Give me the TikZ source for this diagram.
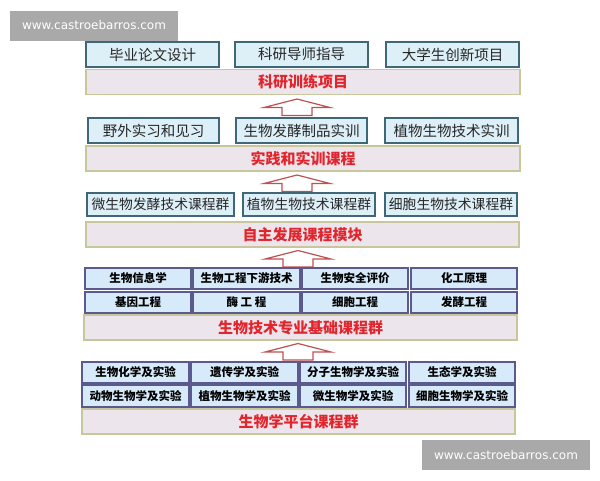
\documentclass[tikz,border=0pt]{standalone}
\usepackage{fontspec}
\setmainfont{Noto Sans CJK SC}
\newfontfamily\wmfont{DejaVu Sans}
\definecolor{topfill}{HTML}{DDEFF7}
\definecolor{topdraw}{HTML}{3F6778}
\definecolor{cfill}{HTML}{D6EAFA}
\definecolor{cdraw}{HTML}{5A5A8E}
\definecolor{bandfill}{HTML}{ECE5EC}
\definecolor{banddraw}{HTML}{C8C79B}
\definecolor{bandtext}{HTML}{E2252D}
\definecolor{arrdraw}{HTML}{BF5250}
\definecolor{wmgray}{HTML}{A9A9A9}
\tikzset{
  topbox/.style={draw=topdraw, fill=topfill, line width=1.2pt, inner sep=0pt,
    minimum height=25pt, text=black!85, font=\fontsize{14.5pt}{16pt}\selectfont},
  midbox/.style={topbox, minimum height=23pt, font=\fontsize{13.8pt}{15pt}\selectfont},
  cbox/.style={draw=cdraw, fill=cfill, line width=1.3pt, inner sep=0pt,
    minimum width=106pt, minimum height=21pt, text=black,
    font=\fontsize{11.5pt}{13pt}\selectfont\bfseries},
  band/.style={draw=banddraw, fill=bandfill, line width=1.5pt, inner sep=0pt,
    minimum width=434pt, minimum height=25pt, text=bandtext,
    font=\fontsize{15pt}{17pt}\selectfont\bfseries},
  wm/.style={fill=wmgray, text=white, inner sep=0pt, minimum width=168pt,
    minimum height=30pt, font=\wmfont\fontsize{12pt}{14pt}\selectfont},
  arrline/.style={draw=arrdraw, fill=white, line width=1.2pt, line join=miter},
  uparr/.pic={\path[arrline] (0,0) -- (-33,8.5) -- (-15,8.5) -- (-15,16.5)
     -- (15,16.5) -- (15,8.5) -- (33,8.5) -- cycle;}
}
\begin{document}
\begin{tikzpicture}[x=1pt,y=-1pt]
\useasboundingbox[fill=white] (0,0) rectangle (600,480);
% watermarks
\node[wm] (wm1) at (94,25.5) {www.castroebarros.com};
\node[wm] (wm2) at (506,455) {www.castroebarros.com};
% level 1
\node[topbox, minimum width=133pt] (t1) at (152.5,54.5) {毕业论文设计};
\node[topbox, minimum width=133pt] (t2) at (301.5,54.5) {科研导师指导};
\node[topbox, minimum width=133pt] (t3) at (452.5,54.5) {大学生创新项目};
\node[band] (b1) at (303,82) {科研训练项目};
\pic at (297,99) {uparr};
% level 2
\node[topbox, minimum width=131pt] (s1) at (153.5,130.5) {野外实习和见习};
\node[topbox, minimum width=131pt] (s2) at (301.5,130.5) {生物发酵制品实训};
\node[topbox, minimum width=133pt] (s3) at (451.5,130.5) {植物生物技术实训};
\node[band] (b2) at (303,158.5) {实践和实训课程};
\pic at (297,175) {uparr};
% level 3
\node[midbox, minimum width=147pt] (m1) at (160.5,204.5) {微生物发酵技术课程群};
\node[midbox, minimum width=132pt] (m2) at (309,204.5) {植物生物技术课程群};
\node[midbox, minimum width=132pt] (m3) at (451,204.5) {细胞生物技术课程群};
\node[band, minimum width=433pt] (b3) at (302.5,234.5) {自主发展课程模块};
\pic at (298,250.5) {uparr};
% level 4
\node[cbox] (c1) at (138,278.5) {生物信息学};
\node[cbox, minimum width=107pt] (c2) at (246.5,278.5) {生物工程下游技术};
\node[cbox] (c3) at (355,278.5) {生物安全评价};
\node[cbox] (c4) at (464,278.5) {化工原理};
\node[cbox] (c5) at (138,302.5) {基因工程};
\node[cbox, minimum width=107pt] (c6) at (246.5,302.5) {酶 工 程};
\node[cbox] (c7) at (355,302.5) {细胞工程};
\node[cbox] (c8) at (464,302.5) {发酵工程};
\node[band, minimum width=433pt] (b4) at (300.5,327.5) {生物技术专业基础课程群};
\pic at (298,343.5) {uparr};
% level 5
\node[cbox, minimum width=107pt] (p1) at (135.5,372.5) {生物化学及实验};
\node[cbox, minimum width=107pt] (p2) at (244.5,372.5) {遗传学及实验};
\node[cbox] (p3) at (353,372.5) {分子生物学及实验};
\node[cbox] (p4) at (462,372.5) {生态学及实验};
\node[cbox, minimum width=107pt, minimum height=22pt] (p5) at (135.5,396) {动物生物学及实验};
\node[cbox, minimum width=107pt, minimum height=22pt] (p6) at (244.5,396) {植物生物学及实验};
\node[cbox, minimum height=22pt] (p7) at (353,396) {微生物学及实验};
\node[cbox, minimum height=22pt] (p8) at (462,396) {细胞生物学及实验};
\node[band, minimum width=433pt] (b5) at (298.5,421.5) {生物学平台课程群};
\end{tikzpicture}
\end{document}
